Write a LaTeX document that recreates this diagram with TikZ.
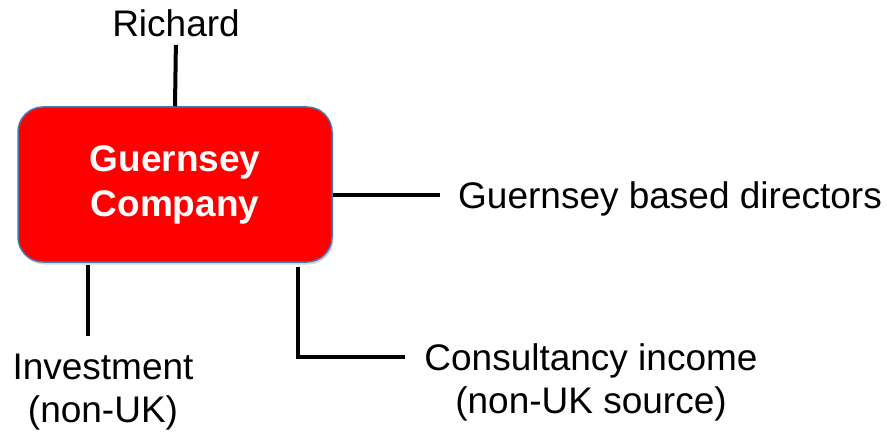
\documentclass[tikz,border=0pt]{standalone}
\usepackage{fontspec}
\setmainfont{Liberation Sans}
\usetikzlibrary{positioning, shadows, calc}
\definecolor{cred}  {RGB}{255,  0,  0}
\definecolor{cblue} {RGB}{ 70,120,180}
\tikzset{
  % Red company box
  CB/.style={rectangle,rounded corners=25pt,draw=cblue,fill=cred,
             minimum width=314pt,minimum height=155pt,align=center,
             text=white,font=\fontsize{37}{45}\selectfont\bfseries,
             line width=1.5pt,
             drop shadow={shadow xshift=1.5pt,shadow yshift=-2.5pt,opacity=0.3}},
  % Plain label
  LB/.style={align=center,inner sep=0pt,font=\fontsize{37}{43}\selectfont},
  % Connector lines
  Ln/.style={line width=4pt,color=black},
}
\begin{document}
\begin{tikzpicture}[x=1pt,y=-1pt]
\useasboundingbox (0,0) rectangle (887,433);
% ── Company ──────────────────────────────
\node[CB] at (175,184.5) (company) {Guernsey\\Company};
% ── Labels ───────────────────────────────
\node[LB] at (176,23) (richard) {Richard};
\node[LB,anchor=base west] at (458,208) (directors) {Guernsey based directors};
\node[LB] at (103,392) (invest) {Investment\\(non-UK)};
\node[LB] at (591,382) (consult) {Consultancy income\\(non-UK source)};
% ── Connector ends ───────────────────────
\coordinate (dirEnd) at (440,195);
\coordinate (invEnd) at (88,336);
\coordinate (conCorner) at (298,357);
\coordinate (conEnd) at (405,357);
% ── Connectors ───────────────────────────
\draw[Ln] (company.north) -- (richard.south) [shorten >=8pt];
\draw[Ln] (company.east |- dirEnd) -- (dirEnd);
\draw[Ln] ($(company.south -| invEnd)+(0,2)$) -- (invEnd);
\draw[Ln] ($(company.south -| conCorner)+(0,4)$) -- (conCorner) -- (conEnd);
\end{tikzpicture}
\end{document}
